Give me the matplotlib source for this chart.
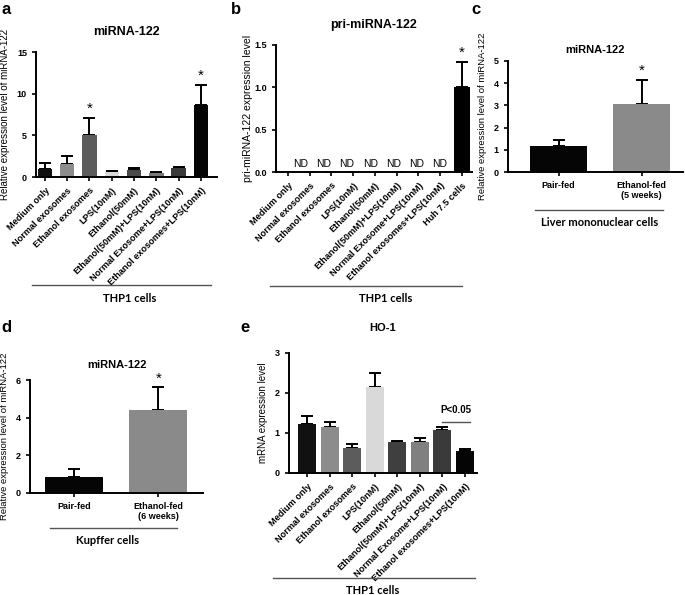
import numpy as np
import matplotlib
matplotlib.use("Agg")
import matplotlib.pyplot as plt
from matplotlib.lines import Line2D

plt.rcParams['font.family'] = ['Liberation Sans', 'DejaVu Sans']

W, H = 685, 595

# panel a / e categories (THP1)
thp1_cats = ["Medium only", "Normal exosomes", "Ethanol exosomes", "LPS(10nM)",
             "Ethanol(50mM)", "Ethanol(50mM)+LPS(10nM)", "Normal Exosome+LPS(10nM)",
             "Ethanol exosomes+LPS(10nM)"]
thp1_colors = ["#111111", "#8c8c8c", "#5c5c5c", "#d9d9d9", "#4a4a4a", "#777777",
               "#3a3a3a", "#050505"]

a_vals = [1.0, 1.6, 5.0, 0.55, 0.8, 0.5, 1.05, 8.7]
a_err = [0.7, 0.9, 2.1, 0.15, 0.3, 0.05, 0.15, 2.3]
a_star = [2, 7]

b_cats = thp1_cats + ["Huh 7.5 cells"]
b_vals = [0, 0, 0, 0, 0, 0, 0, 0, 1.0]
b_err = [0, 0, 0, 0, 0, 0, 0, 0, 0.3]
b_nd = [1, 2, 3, 4, 5, 6, 7]

c_cats = ["Pair-fed", "Ethanol-fed\n(5 weeks)"]
c_vals = [1.15, 3.05]
c_err = [0.3, 1.1]

d_cats = ["Pair-fed", "Ethanol-fed\n(6 weeks)"]
d_vals = [0.85, 4.4]
d_err = [0.45, 1.25]

e_cats = ["Medium only", "Normal exosomes", "Ethanol exosomes", "LPS(10nM)",
          "Ethanol(50mM)", "Ethanol(50mM)+LPS(10nM)", "Normal Exosome+LPS(10nM)",
          "Ethanol exosomes+LPS(10nM)"]
e_vals = [1.22, 1.16, 0.63, 2.15, 0.78, 0.77, 1.07, 0.55]
e_err = [0.21, 0.11, 0.10, 0.35, 0.03, 0.10, 0.08, 0.05]
e_colors = ["#111111", "#8c8c8c", "#5c5c5c", "#d9d9d9", "#3f3f3f", "#808080",
            "#3a3a3a", "#050505"]

fig = plt.figure(figsize=(W / 100, H / 100), dpi=100)


def px_axes(l, t, r, b):
    return fig.add_axes([l / W, 1 - b / H, (r - l) / W, (b - t) / H])


def style(ax, yticks, ylabel, ylsize=7, pad=3):
    for s in ["top", "right"]:
        ax.spines[s].set_visible(False)
    for s in ["left", "bottom"]:
        ax.spines[s].set_linewidth(1.4)
    ax.tick_params(width=1.2, length=3, labelsize=6.5)
    ax.set_yticks(yticks)
    for lab in ax.get_yticklabels():
        lab.set_fontweight("bold")
    ax.set_ylabel(ylabel, fontsize=ylsize, labelpad=pad)


def bars(ax, vals, err, colors, width):
    x = np.arange(len(vals))
    ax.bar(x, vals, width=width, color=colors, zorder=2)
    ax.errorbar(x, vals, yerr=[np.zeros(len(err)), err], fmt="none",
                ecolor="black", elinewidth=1.4, capsize=4, capthick=1.4, zorder=1)
    return x


def rot_labels(ax, labels):
    ax.set_xticks(np.arange(len(labels)))
    ax.set_xticklabels(labels, rotation=45, ha="right", rotation_mode="anchor",
                       fontsize=6.6, fontweight="bold")


def group_line(x1, x2, y, text, ty, tx):
    fig.add_artist(Line2D([x1 / W, x2 / W], [1 - y / H, 1 - y / H],
                          transform=fig.transFigure, color="#555555", lw=1))
    fig.text(tx / W, 1 - ty / H, text, ha="center", va="center",
             fontsize=8, family=["Lato", "DejaVu Sans"], fontweight="bold")


def letter(x, y, s):
    fig.text(x / W, 1 - y / H, s, fontsize=12, fontweight="bold",
             ha="center", va="center")


# ---- panel a
ax = px_axes(36, 52, 217, 177)
x = bars(ax, a_vals, a_err, thp1_colors, 0.65)
ax.set_xlim(-0.4, 7.72)
ax.set_ylim(0, 15)
style(ax, [0, 5, 10, 15], "Relative expression level of miRNA-122", 7, 5)
rot_labels(ax, thp1_cats)
for i in a_star:
    ax.text(i, a_vals[i] + a_err[i] + 0.3, "*", ha="center", va="bottom", fontsize=11)
ax.set_title("miRNA-122", fontsize=9, fontweight="bold", pad=12)
group_line(32, 211, 285, "THP1 cells", 298, 130)
letter(6, 9, "a")

# ---- panel b
ax = px_axes(276, 45, 472, 172)
x = bars(ax, b_vals, b_err, ["black"] * len(b_vals), 0.78)
ax.set_xlim(-0.55, 8.46)
ax.set_ylim(0, 1.5)
style(ax, [0, 0.5, 1.0, 1.5], "pri-miRNA-122 expression level", 7.5, 1)
ax.set_yticklabels(["0.0", "0.5", "1.0", "1.5"], fontweight="bold")
rot_labels(ax, b_cats)
for i in b_nd:
    ax.text(i * 1.07 - 0.5, 0.03, "ND", ha="center", va="bottom", fontsize=7.5)
ax.text(8, b_vals[8] + b_err[8] + 0.02, "*", ha="center", va="bottom", fontsize=11)
ax.set_title("pri-miRNA-122", fontsize=9, fontweight="bold", pad=12)
group_line(270, 462, 286, "THP1 cells", 299, 386)
letter(236, 9, "b")

# ---- panel c
ax = px_axes(508, 61, 683, 172)
x = bars(ax, c_vals, c_err, ["#050505", "#8a8a8a"], 0.69)
ax.set_xlim(-0.61, 1.5)
ax.set_ylim(0, 5)
style(ax, [0, 1, 2, 3, 4, 5], "Relative expression level of miRNA-122", 6.8, 5)
ax.set_xticks(x)
ax.set_xticklabels(c_cats, fontsize=6.5, fontweight="bold")
ax.text(1, c_vals[1] + c_err[1] + 0.1, "*", ha="center", va="bottom", fontsize=11)
ax.set_title("miRNA-122", fontsize=8, fontweight="bold", pad=6)
group_line(535, 663, 210, "Liver mononuclear cells", 222, 600)
letter(476, 10, "c")

# ---- panel d
ax = px_axes(30, 380, 203, 493)
x = bars(ax, d_vals, d_err, ["#050505", "#8a8a8a"], 0.69)
ax.set_xlim(-0.52, 1.53)
ax.set_ylim(0, 6)
style(ax, [0, 2, 4, 6], "Relative expression level of miRNA-122", 6.8, 5)
ax.set_xticks(x)
ax.set_xticklabels(d_cats, fontsize=6.5, fontweight="bold")
ax.text(1, d_vals[1] + d_err[1] + 0.05, "*", ha="center", va="bottom", fontsize=11)
ax.set_title("miRNA-122", fontsize=8, fontweight="bold", pad=9)
group_line(50, 177, 528, "Kupffer cells", 540, 108)
letter(6, 328, "d")

# ---- panel e
ax = px_axes(289, 353, 477, 473)
x = bars(ax, e_vals, e_err, e_colors, 0.8)
ax.set_xlim(-0.8, 7.53)
ax.set_ylim(0, 3)
style(ax, [0, 1, 2, 3], "mRNA expression level", 7, 5)
rot_labels(ax, e_cats)
ax.plot([5.98, 7.22], [1.28, 1.28], color="#555555", lw=1, clip_on=False)
ax.text(6.6, 1.45, "P<0.05", ha="center", va="bottom", fontsize=7, fontweight="bold")
ax.set_title("HO-1", fontsize=8, fontweight="bold", pad=16)
group_line(273, 475, 578, "THP1 cells", 590, 373)
letter(245, 327, "e")

fig.savefig("out.png", dpi=100)
